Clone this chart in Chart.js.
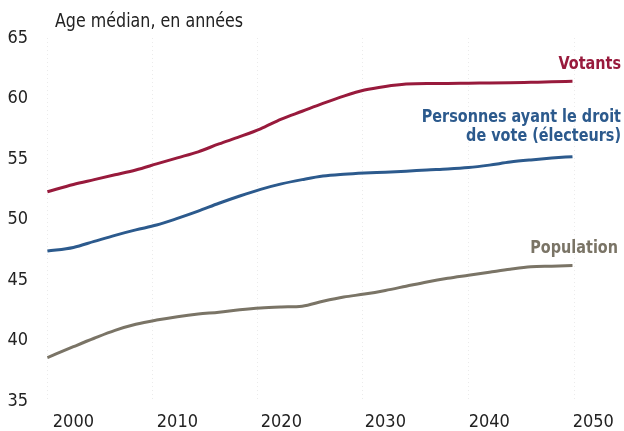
<!DOCTYPE html>
<html>
<head>
<meta charset="utf-8">
<script src="https://cdn.jsdelivr.net/npm/chart.js@4/dist/chart.umd.min.js"></script>
<style>
  html, body { margin: 0; padding: 0; background: #ffffff; }
  #wrap { width: 624px; height: 431px; position: relative; }
</style>
</head>
<body>
<div id="wrap"><canvas id="c" width="624" height="431"></canvas></div>
<script>
// ---- data ----
const years = [1997.5, 2000, 2002, 2004, 2006, 2008, 2010, 2012, 2014, 2016, 2018, 2020, 2022, 2024, 2026, 2028, 2030, 2032, 2034, 2036, 2038, 2040, 2042, 2044, 2046, 2048];
const votants = [52.3, 52.9, 53.3, 53.7, 54.1, 54.6, 55.1, 55.6, 56.25, 56.85, 57.5, 58.3, 58.95, 59.6, 60.2, 60.7, 61.0, 61.2, 61.25, 61.25, 61.27, 61.28, 61.3, 61.34, 61.38, 61.43];
const electeurs = [47.4, 47.7, 48.2, 48.7, 49.15, 49.55, 50.1, 50.7, 51.35, 51.95, 52.5, 52.95, 53.3, 53.6, 53.75, 53.85, 53.92, 54.0, 54.1, 54.18, 54.3, 54.5, 54.75, 54.93, 55.08, 55.2];
const population = [38.6, 39.5, 40.2, 40.85, 41.35, 41.7, 41.98, 42.2, 42.35, 42.55, 42.7, 42.78, 42.85, 43.25, 43.6, 43.85, 44.15, 44.5, 44.85, 45.15, 45.4, 45.65, 45.9, 46.1, 46.15, 46.2];
const xTicks = [2000, 2010, 2020, 2030, 2040, 2050];
const yTicks = [35, 40, 45, 50, 55, 60, 65];
const gridYears = [1997.5, 2007.6, 2017.7, 2027.85, 2038.0, 2048.15];
const seriesNames = ["Votants", ["Personnes ayant le droit", "de vote (électeurs)"], "Population"];
const axisTitle = "Age médian, en années";

const FONT = "'DejaVu Sans Condensed', 'DejaVu Sans', sans-serif";
const colors = ["#981a3c", "#2c5a8d", "#7a7466"];

function toPts(vals) { return vals.map((v, i) => ({ x: years[i], y: v })); }

// draw text squeezed horizontally to mimic a condensed face
function squeezed(ctx, text, x, y, sx, align) {
  ctx.save();
  ctx.translate(x, y);
  ctx.scale(sx, 1);
  ctx.textAlign = align;
  ctx.fillText(text, 0, 0);
  ctx.restore();
}

const labelPlugin = {
  id: 'labels',
  afterDraw(chart) {
    const ctx = chart.ctx;
    ctx.save();
    ctx.textBaseline = "alphabetic";
    ctx.fillStyle = "#222";
    ctx.font = "19px " + FONT;
    squeezed(ctx, axisTitle, 55, 27, 0.93, "left");
    ctx.font = "bold 18px " + FONT;
    ctx.fillStyle = colors[0];
    squeezed(ctx, seriesNames[0], 621, 69, 0.89, "right");
    ctx.fillStyle = colors[1];
    squeezed(ctx, seriesNames[1][0], 621, 122, 0.89, "right");
    squeezed(ctx, seriesNames[1][1], 621, 141, 0.89, "right");
    ctx.fillStyle = colors[2];
    squeezed(ctx, seriesNames[2], 618, 253, 0.89, "right");
    ctx.restore();
  }
};

new Chart(document.getElementById('c'), {
  type: 'line',
  data: {
    datasets: [
      { data: toPts(votants), borderColor: colors[0] },
      { data: toPts(electeurs), borderColor: colors[1] },
      { data: toPts(population), borderColor: colors[2] }
    ].map(d => Object.assign(d, { borderWidth: 3, pointRadius: 0, fill: false, cubicInterpolationMode: 'monotone' }))
  },
  options: {
    responsive: false,
    animation: false,
    events: [],
    layout: { padding: { top: 38, right: 3, left: 0, bottom: 0 } },
    plugins: { legend: { display: false }, tooltip: { enabled: false }, title: { display: false } },
    scales: {
      x: {
        type: 'linear',
        min: 1997.46,
        max: 2052.3,
        afterBuildTicks: s => { s.ticks = xTicks.map(v => ({ value: v })); },
        afterFit: s => { s.height = 28; },
        ticks: { color: '#222', font: { family: FONT, size: 18 }, padding: 10, maxRotation: 0, autoSkip: false, callback: v => String(v) },
        grid: { display: false, drawTicks: false },
        border: { display: false }
      },
      xg: {
        type: 'linear',
        position: 'bottom',
        display: true,
        min: 1997.46,
        max: 2052.3,
        afterBuildTicks: s => { s.ticks = gridYears.map(v => ({ value: v })); },
        afterFit: s => { s.height = 0; },
        ticks: { display: false },
        grid: { color: 'rgba(0,0,0,0.08)', lineWidth: 1, drawTicks: false },
        border: { display: false, dash: [1, 3] }
      },
      y: {
        min: 35,
        max: 65,
        afterBuildTicks: s => { s.ticks = yTicks.map(v => ({ value: v })); },
        afterFit: s => { s.width = 47; },
        ticks: { color: '#222', font: { family: FONT, size: 18 }, padding: 19 },
        grid: { display: false, drawTicks: false },
        border: { display: false }
      }
    }
  },
  plugins: [labelPlugin]
});
</script>
</body>
</html>
